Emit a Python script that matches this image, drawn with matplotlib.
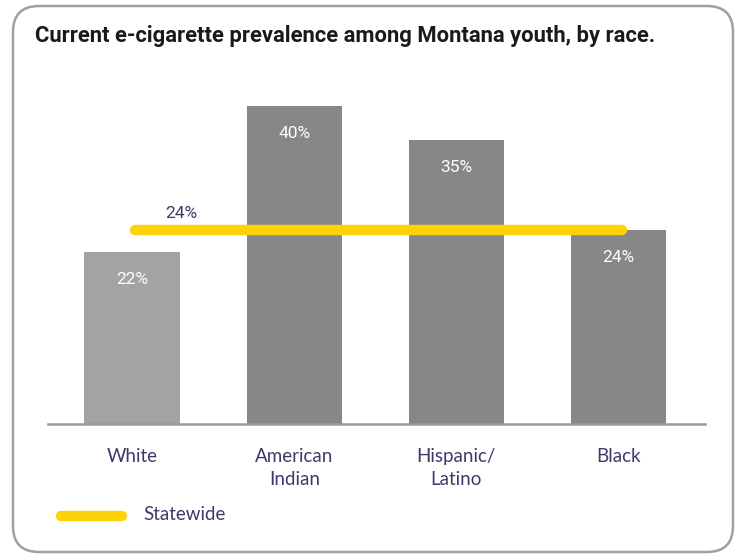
import matplotlib
matplotlib.use("Agg")
import matplotlib.pyplot as plt
from matplotlib.patches import FancyBboxPatch

# Data
categories = ["White", "American\nIndian", "Hispanic/\nLatino", "Black"]
values = [21.6, 40.0, 35.7, 24.4]
value_labels = ["22%", "40%", "35%", "24%"]
statewide = 24.4
statewide_label = "24%"

bar_colors = ["#a3a3a3", "#878787", "#878787", "#878787"]
YELLOW = "#fcd307"
NAVY = "#3b3b6b"

W, H = 742, 558
fig = plt.figure(figsize=(W / 100, H / 100), dpi=100)

# rounded card frame
frame = FancyBboxPatch((13 / W, 6 / H), 720 / W, 546 / H,
                       boxstyle="round,pad=0,rounding_size=0.035",
                       transform=fig.transFigure, facecolor="none",
                       edgecolor="#a0a0a0", linewidth=1.8,
                       mutation_aspect=W / H, zorder=-1)
fig.patches.append(frame)

fig.text(35 / W, 1 - 36 / H,
         "Current e-cigarette prevalence among Montana youth, by race.",
         fontsize=15.8, fontweight="bold", family="Roboto", color="#1a1a1a",
         va="center", ha="left")

# axes placed in pixel terms: baseline at y=424, x from 48 to 705
px_per_pct = 7.95
ymax = 45
ax_left, ax_right, base = 48, 705, 424
ax = fig.add_axes([ax_left / W, (H - base) / H, (ax_right - ax_left) / W,
                   ymax * px_per_pct / H])
ax.patch.set_alpha(0)

x = list(range(len(categories)))
ax.bar(x, values, width=0.59, color=bar_colors, zorder=1)

for xi, v, lab in zip(x, values, value_labels):
    ax.text(xi, v - 3.4, lab, ha="center", va="center", color="white",
            fontsize=12.5, family="Roboto", zorder=3)

ax.plot([0.015, 3.02], [statewide, statewide], color=YELLOW, lw=7.5,
        solid_capstyle="round", zorder=2)
ax.text(0.3, statewide + 2.1, statewide_label, ha="center", va="center",
        color=NAVY, fontsize=12.5, family="Roboto")

ax.set_xlim(-0.52, 3.534)
ax.set_ylim(0, ymax)
ax.set_xticks(x)
ax.set_xticklabels(categories, fontsize=13.5, family="Lato", color=NAVY,
                   linespacing=1.45, va="top")
ax.tick_params(axis="x", length=0, pad=17)
ax.set_yticks([])
for s in ["top", "right", "left"]:
    ax.spines[s].set_visible(False)
ax.spines["bottom"].set_color("#9a9a9a")
ax.spines["bottom"].set_linewidth(1.8)

# legend drawn by hand to match the reference
fig.lines.append(plt.Line2D([61 / W, 122 / W], [1 - 516 / H, 1 - 516 / H],
                            transform=fig.transFigure, color=YELLOW, lw=7.5,
                            solid_capstyle="round"))
fig.text(143 / W, 1 - 514 / H, "Statewide", fontsize=13.5, family="Lato",
         color=NAVY, va="center", ha="left")

fig.savefig("out.png", dpi=100)
